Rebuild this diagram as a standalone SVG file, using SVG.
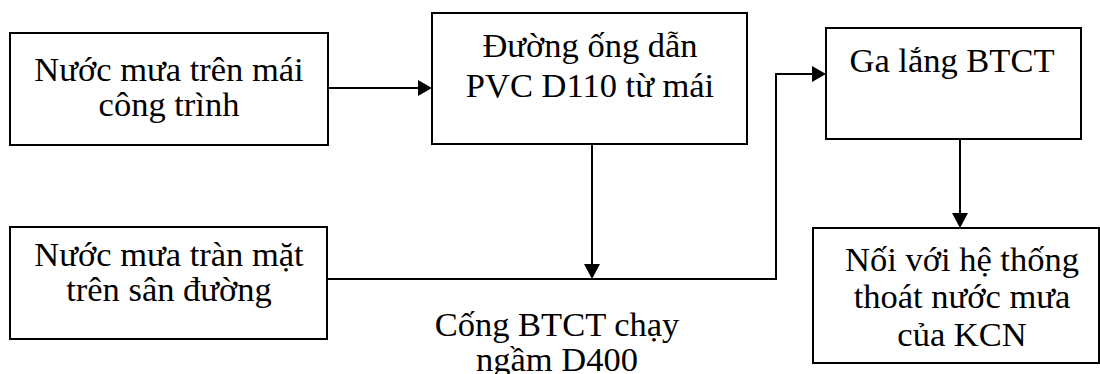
<svg xmlns="http://www.w3.org/2000/svg" width="1100" height="374" viewBox="0 0 1100 374">
<style>
.box{fill:#fff;stroke:#000;stroke-width:2}
.t{font-family:"Liberation Serif","Times New Roman",serif;font-size:34.5px;fill:#000;text-anchor:middle}
.c{fill:none;stroke:#000;stroke-width:2}
</style>
<rect width="1100" height="374" fill="#fff"/>
<g id="connectors">
<path class="c" d="M328,88 H418" />
<path d="M418,80 L432,88 L418,96 Z"/>
<path class="c" d="M592,144 V264" />
<path d="M584,264 L592,279 L600,264 Z"/>
<path class="c" d="M328,279 H776 V74 H812" />
<path d="M812,66 L826,74 L812,82 Z"/>
<path class="c" d="M960,139 V213" />
<path d="M952,213 L960,228 L968,213 Z"/>
</g>
<g id="n1">
<rect class="box" x="10" y="33" width="318" height="112"/>
<text class="t" x="169" y="81">Nước mưa trên mái</text>
<text class="t" x="169" y="116">công trình</text>
</g>
<g id="n2">
<rect class="box" x="432" y="13" width="315" height="131"/>
<text class="t" x="590" y="57">Đường ống dẫn</text>
<text class="t" x="590" y="97">PVC D110 từ mái</text>
</g>
<g id="n3">
<rect class="box" x="826" y="28" width="255" height="111"/>
<text class="t" x="952" y="72">Ga lắng BTCT</text>
</g>
<g id="n4">
<rect class="box" x="813" y="228" width="286" height="135"/>
<text class="t" x="962" y="271">Nối với hệ thống</text>
<text class="t" x="962" y="308">thoát nước mưa</text>
<text class="t" x="962" y="346">của KCN</text>
</g>
<g id="n5">
<rect class="box" x="10" y="227" width="317" height="112"/>
<text class="t" x="169" y="266">Nước mưa tràn mặt</text>
<text class="t" x="169" y="301">trên sân đường</text>
</g>
<g id="label">
<text class="t" x="557" y="336">Cống BTCT chạy</text>
<text class="t" x="557" y="371">ngầm D400</text>
</g>
</svg>
